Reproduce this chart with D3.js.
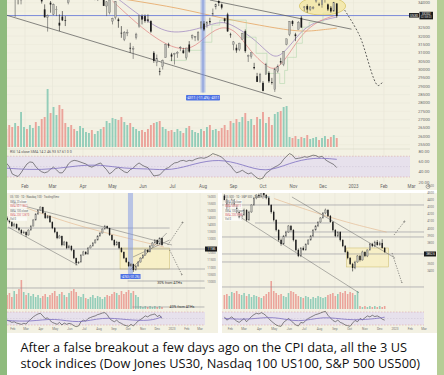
<!DOCTYPE html>
<html><head><meta charset="utf-8">
<script src="https://cdn.jsdelivr.net/npm/d3@7"></script>
<style>html,body{margin:0;padding:0;background:#fff;}svg{display:block;}</style>
</head><body>
<svg id="c" width="444" height="375"></svg>
<script>
// ---------------- DATA ----------------
const captionLines = [
  "After a false breakout a few days ago on the CPI data, all the 3 US",
  "stock indices (Dow Jones US30, Nasdaq 100 US100, S&P 500 US500)"
];
const topMonthDates = ["2022-02-01","2022-03-01","2022-04-01","2022-05-01","2022-06-01","2022-07-01","2022-08-01","2022-09-01","2022-10-01","2022-11-01","2022-12-01","2023-01-01","2023-02-01","2023-03-01"];
const topMonthLabels = ["Feb","Mar","Apr","May","Jun","Jul","Aug","Sep","Oct","Nov","Dec","2023","Feb","Mar"];
const smallMonthDates = ["2022-02-01","2022-03-01","2022-04-01","2022-05-01","2022-06-01","2022-07-01","2022-08-01","2022-09-01","2022-10-01","2022-11-01","2022-12-01","2023-01-01","2023-02-01","2023-03-01"];
const smallMonthLabels = ["Feb","Mar","Apr","May","Jun","Jul","Aug","Sep","Oct","Nov","Dec","2023","Feb","Mar"];
const us30Ticks = [34000,33500,33000,32500,32000,31500,31000,30500,30000,29500,29000,28500,28000,27500,27000,26500,26000,25500];
const us100Ticks = [16000,15500,15000,14500,14000,13500,13000,12500,12000,11500,11000,10500,10000];
const us500Ticks = [4600,4500,4400,4300,4200,4100,4000,3900,3800,3700,3600,3500,3400];
const rsiTicks = [80,60,40,20];

// US30 candles [open, high, low, close], one every 3 days from 2022-01-13
const us30Start = "2022-01-13";
const us30 = [
[36290,36450,36050,36113],[35900,35950,35300,35368],[35370,35500,34700,34715],[34260,34400,33150,34364],
[34300,34500,33900,34168],[34160,34750,33900,34725],[34730,35200,34600,35131],[35400,35600,35000,35111],
[35100,35500,35000,35463],[35460,35825,35400,35768],[35250,35300,34700,34738],[34600,35000,34500,34988],
[34300,34400,33950,34079],[33600,33900,33100,33131],[33130,33300,32272,33223],[34000,34100,33400,33892],
[33300,33950,33250,33891],[33600,33800,33200,33614],[32800,33300,32300,32632],[33170,33500,32900,32944],
[32950,33200,32600,32945],[34000,34500,33900,34480],[34750,34900,34500,34552],[34800,34900,34300,34358],
[34700,34900,34500,34861],[34950,35370,34900,35294],[34700,34900,34500,34818],[34800,35000,34600,34921],
[34500,34700,34300,34583],[34500,34600,34300,34308],[34200,34600,34150,34564],[34400,34500,34100,34411],
[34400,34950,34350,34911],[34800,34900,33800,33811],[33800,34100,33200,34049],[33400,34200,33300,34160],
[32900,33100,32700,33061],[33100,34100,33000,34061],[33000,33100,32500,32899],[32200,32600,31900,32160],
[31800,32300,31700,32197],[32200,32400,32000,32223],[31300,31600,31000,31253],[31250,31400,30636,31262],
[31900,32200,31800,32120],[32600,33200,32500,33213],[33200,33300,32700,32990],[33200,33300,32800,32900],
[33000,33300,32800,32916],[32900,32950,32200,32272],[31000,31100,30400,30516],[30400,30900,30200,30668],
[29900,30100,29653,29888],[30200,30600,30000,30530],[30700,31550,30700,31500],[31500,31600,31300,31438],
[30900,31000,30500,30775],[30900,31000,30300,30967],[30950,31100,30700,31037],[31300,31400,31100,31338],
[31150,31300,30950,30981],[30700,31300,30600,31288],[31500,31700,31000,31072],[31900,32100,31800,32036],
[31900,32000,31700,31990],[31800,32300,31700,32197],[32500,32900,32400,32845],[32750,32900,32300,32396],
[32700,32900,32500,32803],[32900,33100,32700,32832],[33300,33650,33200,33336],[33750,33950,33600,33912],
[34100,34150,33800,33980],[33900,33950,33600,33706],[33050,33100,32800,32910],[33300,33400,32250,32283],
[32100,32200,31900,32098],[31500,31700,31150,31656],[31300,31500,31000,31145],[31200,31600,31100,31581],
[31800,32200,31800,32151],[32300,32400,31000,31104],[30800,30900,30450,30822],[30800,31000,30650,31019],
[30150,30400,30000,30076],[29600,29800,29250,29261],[29300,29800,29200,29684],[29200,29300,28700,28725],
[29700,30400,29700,30316],[29800,29900,29200,29296],[29250,29500,29100,29203],[28800,30100,28660,30038],
[29900,30300,29800,30186],[30500,30700,30300,30424],[30300,31100,30200,31082],[31500,31850,31450,31836],
[32100,32900,32000,32861],[32900,32950,32600,32732],[32100,32200,31700,32001],[32400,32900,32400,32827],
[33100,33200,32500,32513],[33700,33800,33500,33747],[33800,33900,33400,33592],[33600,33800,33500,33746],
[33700,33800,33600,33700],[34100,34250,34000,34194],[33900,34000,33800,33849],[33900,34600,33700,34589],
[34300,34450,34000,34429],[33900,33950,33500,33596],[33700,33800,33400,33476],[33500,34050,33450,34005],
[33950,33980,33100,33202]
];
const us30Vol = [18,22,20,24,21,35,20,18,22,19,25,21,28,30,58,34,40,32,42,38,24,20,22,18,16,21,19,15,14,17,13,16,18,20,26,24,29,28,27,30,25,22,24,20,18,16,17,15,18,22,24,25,26,20,18,16,17,15,18,16,14,19,21,17,15,14,18,16,20,22,17,18,16,19,22,17,26,24,28,25,30,34,26,28,22,30,28,35,24,30,22,33,35,36,40,41,10,9,11,8,10,9,12,8,9,10,7,9,11,8,10,12,9];
const us30Rsi = [57,50,36,33,31,38,47,55,59,58,50,44,40,38,40,45,49,44,38,38,45,55,60,62,61,59,57,55,51,49,52,55,57,50,44,36,40,46,48,44,40,38,44,47,53,57,53,50,48,40,32,33,34,40,46,48,53,57,58,61,62,60,62,61,64,66,67,66,68,71,75,73,71,68,63,56,52,44,38,40,43,39,36,38,33,28,26,28,37,41,46,49,52,56,64,70,75,72,65,66,67,69,68,70,72,71,68,70,64,60,57,54,48];
const us30RsiMa = [[0,47],[8,44],[16,45],[24,52],[32,54],[40,46],[48,46],[56,42],[64,56],[72,65],[80,54],[88,38],[96,57],[104,68],[112,64]];
const us30Ma200 = [["2022-04-01",34600],["2022-05-18",34163],["2022-07-08",33680],["2022-08-19",33080],["2022-09-27",32657],["2022-11-07",32235],["2022-11-27",32355],["2022-12-15",32476]];
const us30Ma100 = [["2022-05-05",34300],["2022-06-05",32900],["2022-06-28",32055],["2022-07-31",32476],["2022-08-20",32958],["2022-09-04",32536],["2022-09-24",31753],["2022-10-08",30850],["2022-10-18",30669],["2022-11-04",31934],["2022-11-17",32777],["2022-12-15",33138]];
const us30Ma50 = [["2022-05-01",34100],["2022-06-01",32400],["2022-06-28",31331],["2022-07-18",31150],["2022-07-31",31753],["2022-08-18",32657],["2022-09-04",32355],["2022-09-17",31150],["2022-10-05",30127],["2022-10-15",29946],["2022-10-28",30970],["2022-11-10",32175],["2022-11-27",32958],["2022-12-15",33259]];
const us30Base = [["2022-06-28",30548],["2022-07-15",31150],["2022-07-31",31633],["2022-08-10",32657],["2022-08-18",32958],["2022-09-04",32958],["2022-09-14",31934],["2022-09-24",30970],["2022-10-05",29765],["2022-10-18",29162],["2022-10-23",29946],["2022-10-26",30729],["2022-11-04",31572],["2022-11-10",32536],["2022-11-17",32838],["2022-12-01",33380],["2022-12-15",33440]];
const us30Support = 33230;
const us30LowerTrend = [["2022-01-13",33259],["2022-10-20",28259]];
const us30UpperTrend = [["2022-08-08",34163],["2022-12-30",32416]];
const us30Measure = {date:"2022-08-01", low:28620};
const us30Ellipse = {from:"2022-11-07", to:"2022-12-24", hi:34343, lo:33259};
const us30Arrow = [["2022-12-23",33560],["2023-01-07",32054],["2023-01-26",29043],["2023-01-31",29283]];

// US100 candles, one every 5 days from 2022-01-20
const us100Start = "2022-01-20";
const us100 = [
[14500,14600,14250,14350],[14350,14420,14100,14200],[14200,14250,13850,13920],[13920,14150,13900,14060],
[14060,14100,13700,13780],[13780,13850,13550,13640],[13640,13700,13350,13430],[13430,13600,13380,13500],
[13500,13550,13150,13290],[13290,13700,13250,13640],[13640,14000,13600,13920],[13920,14400,13900,14350],
[14350,14820,14300,14770],[14770,15100,14700,15050],[15050,15300,15000,15260],[15260,15280,14780,14840],
[14840,14900,14420,14490],[14490,14700,14450,14630],[14630,14680,14150,14200],[14200,14250,13700,13780],
[13780,13850,13420,13500],[13500,13550,13000,13080],[13080,13300,13050,13220],[13220,13250,12500,12590],
[12590,12880,12550,12800],[12800,12850,12300,12380],[12380,12600,12350,12520],[12520,12560,12150,12240],
[12240,12280,11600,11670],[11670,11700,11150,11320],[11320,11450,11250,11390],[11390,11950,11350,11880],
[11880,12180,11850,12100],[12100,12150,11900,11950],[11950,12450,11920,12380],[12380,12600,12350,12520],
[12520,12800,12480,12730],[12730,13000,12700,12940],[12940,13280,12900,13220],[13220,13500,13180,13430],
[13430,13760,13400,13710],[13710,14000,13680,13920],[13920,13950,13700,13780],[13780,13800,13230,13290],
[13290,13320,12880,12940],[12940,12980,12500,12590],[12590,12880,12550,12800],[12800,12830,12300,12380],
[12380,12420,12050,12100],[12100,12130,11600,11670],[11670,11720,11330,11390],[11390,11430,11050,11110],
[11110,11300,11080,11250],[11250,11280,10700,10830],[10830,11180,10800,11110],[11110,11450,11080,11390],
[11390,11730,11350,11670],[11670,11950,11630,11880],[11880,12300,11850,12240],[12240,12280,12050,12100],
[12100,12580,12080,12520],[12520,12800,12480,12730],[12730,13000,12700,12940],[12940,12980,12620,12660],
[12660,13130,12640,13080],[13080,13100,12540,12590]
];
const us100Vol = [14,16,12,18,15,20,29,17,14,16,13,15,12,14,11,13,15,12,14,16,18,13,15,17,14,12,16,18,20,17,13,12,15,11,10,12,14,11,13,12,10,12,14,13,15,17,16,14,18,15,17,19,16,18,14,12,3,2,3,2,3,2,3,2,3,2];
const us100Rsi = [45,42,38,40,36,34,32,35,33,42,48,55,60,64,66,58,50,52,44,38,35,32,38,30,36,32,35,33,28,25,27,40,45,42,50,53,56,58,62,64,67,68,62,50,44,40,45,38,35,30,28,26,32,27,35,42,47,52,58,55,60,62,64,56,60,50];
const us100RsiMa = [[0,44],[10,40],[20,52],[30,34],[40,55],[50,46],[60,42],[65,55]];
const us100Ma = [["2022-03-01",15200],["2022-06-01",14100],["2022-09-01",13300],["2022-12-15",12450]];
const us100Levels = [[13783,"2022-01-20","2022-12-27"],[12306,"2022-01-01","2023-04-01"],[10900,"2022-01-20","2023-03-20"],[10056,"2022-09-30","2023-03-10"],[9564,"2022-01-01","2023-04-01"],[8228,"2022-10-10","2023-03-10"]];
const us100Channel = [[["2022-02-01",15541],["2023-01-01",12588]],[["2022-01-22",13853],["2022-06-17",11181]],[["2022-10-05",10830],["2022-12-21",13432]],[["2022-10-11",11744],["2022-12-27",12939]]];
const us100Box = {from:"2022-09-14", to:"2022-12-27", hi:12377, lo:10900};
const us100Measure = {date:"2022-10-06", low:10408};
const us100Arrows = [[["2022-12-23",12588],["2023-01-24",14205]],[["2022-12-27",12236],["2023-01-22",10478]]];
const us100Notes = [["30% from ATHs","2022-12-01",9860],["40% from ATHs","2022-12-27",8150]];

// US500 candles, one every 5 days from 2022-01-20
const us500Start = "2022-01-20";
const us500 = [
[4460,4480,4380,4400],[4400,4420,4260,4288],[4290,4370,4280,4344],[4340,4420,4330,4400],
[4400,4410,4300,4316],[4316,4330,4210,4232],[4232,4250,4130,4148],[4150,4220,4120,4190],
[4190,4280,4180,4260],[4260,4270,4100,4120],[4120,4250,4110,4232],[4232,4340,4220,4330],
[4330,4440,4320,4428],[4428,4480,4410,4470],[4470,4490,4430,4456],[4456,4520,4440,4498],
[4498,4510,4450,4470],[4470,4480,4410,4428],[4428,4440,4320,4330],[4330,4340,4210,4232],
[4232,4250,4100,4120],[4120,4130,3960,3980],[3980,3990,3820,3840],[3840,3860,3760,3784],
[3784,3910,3770,3896],[3896,3970,3880,3952],[3952,4050,3940,4036],[4036,4050,3960,3980],
[3980,3990,3820,3840],[3840,3850,3680,3700],[3700,3720,3600,3616],[3616,3740,3600,3728],
[3728,3750,3690,3700],[3700,3790,3690,3784],[3784,3850,3770,3840],[3840,3910,3830,3896],
[3896,3990,3880,3980],[3980,4050,3970,4036],[4036,4100,4020,4092],[4092,4160,4080,4148],
[4148,4230,4140,4218],[4218,4280,4200,4260],[4260,4270,4160,4176],[4176,4190,4080,4092],
[4092,4100,3960,3980],[3980,3990,3880,3896],[3896,3960,3880,3952],[3952,3960,3820,3840],
[3840,3850,3740,3756],[3756,3770,3660,3672],[3672,3690,3570,3588],[3588,3600,3490,3504],
[3504,3520,3400,3448],[3448,3550,3430,3532],[3532,3630,3520,3616],[3616,3630,3540,3560],
[3560,3690,3550,3672],[3672,3680,3600,3616],[3616,3710,3600,3700],[3700,3800,3690,3784],
[3784,3800,3740,3756],[3756,3830,3740,3812],[3812,3840,3760,3770],[3770,3820,3760,3798],
[3798,3850,3720,3728],[3728,3740,3660,3672]
];
const us500Vol = [14,15,13,17,16,18,15,14,16,13,15,12,14,13,12,11,13,15,17,28,18,16,14,15,13,12,16,18,17,15,13,12,11,13,12,10,12,11,13,12,11,12,14,15,16,13,15,17,16,18,15,17,16,14,18,3,2,3,2,3,2,3,2,3,2,3];
const us500Rsi = [55,45,50,55,48,42,38,44,50,40,48,56,62,66,64,68,64,58,50,42,36,30,27,26,38,44,50,44,36,30,27,38,36,44,50,54,58,62,64,67,70,72,60,52,44,40,45,38,35,30,28,26,36,44,40,50,46,52,58,55,60,56,58,54,48,45];
const us500RsiMa = [[0,50],[10,46],[20,58],[30,36],[40,58],[50,44],[60,48],[65,54]];
const us500Ma = [["2022-05-01",4420],["2022-08-01",4200],["2022-10-15",4050],["2022-12-15",3950]];
const us500Levels = [[4330,"2022-01-01","2023-04-01"],[4078,"2022-03-23","2022-08-22"],[3952,"2022-05-23","2023-04-01"],[3882,"2022-01-01","2023-04-01"],[3644,"2022-01-01","2023-04-01"],[3532,"2022-01-01","2022-08-22"],[3182,"2022-01-01","2023-04-01"]];
const us500Channel = [[["2022-06-06",4442],["2023-01-01",3588]],[["2022-02-24",4148],["2022-10-20",3100]]];
const us500Box = {from:"2022-09-25", to:"2022-12-19", hi:3728, lo:3462};
const us500Arrows = [[["2022-12-30",3910],["2023-01-21",4106]],[["2022-12-26",3658],["2023-01-15",3238]]];

// ---------------- DRAW ----------------
const P = d3.timeParse("%Y-%m-%d");
const svg = d3.select("#c");
const FONT = "Roboto, 'Liberation Sans', sans-serif";
svg.append("rect").attr("width",444).attr("height",375).attr("fill","#ffffff");
svg.append("rect").attr("x",0).attr("y",0).attr("width",7).attr("height",375).attr("fill","#8fbb7e");
svg.append("rect").attr("x",437).attr("y",0).attr("width",7).attr("height",375).attr("fill","#b5cd96");

const defs = svg.append("defs");
function clip(id,x,y,w,h){defs.append("clipPath").attr("id",id).append("rect").attr("x",x).attr("y",y).attr("width",w).attr("height",h);}
defs.append("marker").attr("id","ah").attr("viewBox","0 0 6 6").attr("refX",5).attr("refY",3)
  .attr("markerWidth",4).attr("markerHeight",4).attr("orient","auto")
  .append("path").attr("d","M0,0L6,3L0,6").attr("fill","none").attr("stroke","#333").attr("stroke-width",1);

function candleDates(start, n, step){ const s=P(start); return d3.range(n).map(i=>d3.timeDay.offset(s,i*step)); }

function drawCandles(g, data, dates, x, y, w){
  const up = d=>d[3]>=d[0];
  g.selectAll(null).data(data).join("line")
    .attr("x1",(d,i)=>x(dates[i])).attr("x2",(d,i)=>x(dates[i]))
    .attr("y1",d=>y(d[1])).attr("y2",d=>y(d[2]))
    .attr("stroke",d=>up(d)?"#555":"#1c1c1c").attr("stroke-width",0.6);
  g.selectAll(null).data(data).join("rect")
    .attr("x",(d,i)=>x(dates[i])-w/2).attr("width",w)
    .attr("y",d=>y(Math.max(d[0],d[3])))
    .attr("height",d=>Math.max(0.7,Math.abs(y(d[0])-y(d[3]))))
    .attr("fill",d=>up(d)?"#b9b9b2":"#1c1c1c")
    .attr("stroke",d=>up(d)?"#555":"none").attr("stroke-width",0.3);
}
function drawVolume(g, vols, data, dates, x, v, w){
  g.selectAll(null).data(vols).join("rect")
    .attr("x",(d,i)=>x(dates[i])-w/2).attr("width",w)
    .attr("y",d=>v(d)).attr("height",d=>v(0)-v(d))
    .attr("fill",(d,i)=>data[i][3]>=data[i][0]?"#93cdb9":"#eba39a");
}
function drawRsi(g, rsi, ma, dates, x, r, x0, x1){
  g.append("rect").attr("x",x0).attr("width",x1-x0).attr("y",r(70)).attr("height",r(30)-r(70)).attr("fill","#e7e1ec");
  [70,50,30].forEach(v=>g.append("line").attr("x1",x0).attr("x2",x1).attr("y1",r(v)).attr("y2",r(v))
    .attr("stroke",v===50?"#c9c3d3":"#d49a9a").attr("stroke-width",0.5).attr("stroke-dasharray","1.5,1.5"));
  g.append("path").datum(rsi).attr("fill","none").attr("stroke","#3a3a3a").attr("stroke-width",0.6)
    .attr("d",d3.line().x((d,i)=>x(dates[i])).y(d=>r(d)));
  g.append("path").datum(ma).attr("fill","none").attr("stroke","#7c6fc0").attr("stroke-width",0.8)
    .attr("d",d3.line().curve(d3.curveBasis).x(d=>x(dates[d[0]])).y(d=>r(d[1])));
}
function drawLine(g, pts, x, y, col, w, dash, curve){
  g.append("path").datum(pts).attr("fill","none").attr("stroke",col).attr("stroke-width",w)
    .attr("stroke-dasharray",dash||null)
    .attr("d",d3.line().curve(curve||d3.curveLinear).x(d=>x(P(d[0]))).y(d=>y(d[1])));
}

// ===== TOP CHART (US30) =====
const gT = svg.append("g");
gT.append("rect").attr("x",7).attr("y",0).attr("width",430).attr("height",190).attr("fill","#f3f1e3");
clip("cT",7,0,403,190);
const xT = d3.scaleTime().domain([P("2022-01-01"),P("2023-03-01")]).range([-5.5,411.5]);
const yT = d3.scaleLinear().domain([25500,34000]).range([144.7,2.7]);
const vT = d3.scaleLinear().domain([0,60]).range([147,87]);
const rT = d3.scaleLinear().domain([0,100]).range([192.6,140.6]);
const dT = candleDates(us30Start, us30.length, 3);
const pT = gT.append("g").attr("clip-path","url(#cT)");
pT.selectAll(null).data(topMonthDates).join("line").attr("x1",d=>xT(P(d))).attr("x2",d=>xT(P(d)))
  .attr("y1",0).attr("y2",182).attr("stroke","#e7e5d6").attr("stroke-width",0.6);
pT.selectAll(null).data(us30Ticks).join("line").attr("x1",7).attr("x2",410).attr("y1",d=>yT(d)).attr("y2",d=>yT(d))
  .attr("stroke","#e9e7d9").attr("stroke-width",0.5);
drawVolume(pT, us30Vol, us30, dT, xT, vT, 1.9);
drawRsi(pT, us30Rsi, us30RsiMa, dT, xT, rT, 7, 410);
pT.append("line").attr("x1",7).attr("x2",437).attr("y1",149).attr("y2",149).attr("stroke","#d8d6c8").attr("stroke-width",0.6);
drawLine(pT, us30Ma200, xT, yT, "#e6a561", 0.8, null, d3.curveBasis);
drawLine(pT, us30Ma100, xT, yT, "#9a7fbf", 0.7, null, d3.curveBasis);
drawLine(pT, us30Ma50, xT, yT, "#df8080", 0.7, null, d3.curveBasis);
drawLine(pT, us30Base, xT, yT, "#a9d3a4", 0.5, null, d3.curveStepAfter);
const e = us30Ellipse;
pT.append("ellipse").attr("cx",(xT(P(e.from))+xT(P(e.to)))/2).attr("cy",(yT(e.hi)+yT(e.lo))/2)
  .attr("rx",(xT(P(e.to))-xT(P(e.from)))/2).attr("ry",(yT(e.lo)-yT(e.hi))/2)
  .attr("fill","#f3e69a").attr("fill-opacity",0.7).attr("stroke","#cfb94a").attr("stroke-width",0.6);
pT.append("line").attr("x1",7).attr("x2",410).attr("y1",yT(us30Support)).attr("y2",yT(us30Support))
  .attr("stroke","#6d7fd8").attr("stroke-width",0.9);
drawLine(pT, us30LowerTrend, xT, yT, "#555", 0.7);
drawLine(pT, us30UpperTrend, xT, yT, "#555", 0.7);
const mx = xT(P(us30Measure.date));
pT.append("rect").attr("x",mx-2.5).attr("width",5).attr("y",0).attr("height",yT(us30Measure.low))
  .attr("fill","#7d96e6").attr("fill-opacity",0.45);
pT.append("line").attr("x1",mx).attr("x2",mx).attr("y1",0).attr("y2",yT(us30Measure.low)).attr("stroke","#5b78dc").attr("stroke-width",0.6);
drawCandles(pT, us30, dT, xT, yT, 1.7);
pT.append("path").datum(us30Arrow).attr("fill","none").attr("stroke","#333").attr("stroke-width",0.8)
  .attr("stroke-dasharray","1.8,1.8")
  .attr("d",d3.line().curve(d3.curveCatmullRom).x(d=>xT(P(d[0]))).y(d=>yT(d[1])));
gT.append("rect").attr("x",mx-17).attr("y",yT(us30Measure.low)+2.5).attr("width",34).attr("height",5.5).attr("fill","#4f72e3").attr("rx",0.8);
gT.append("text").attr("x",mx).attr("y",yT(us30Measure.low)+6.7).attr("text-anchor","middle").attr("font-size",3.6)
  .attr("font-family",FONT).attr("fill","#fff").text("-4311 (-11.4%) -4311");
// axis labels (those hidden under the price tag are skipped, as in the reference)
const tagY = yT(us30Support);
gT.selectAll(null).data(us30Ticks.filter(d=>Math.abs(yT(d)-tagY)>5.5)).join("text").attr("x",424).attr("y",d=>yT(d)+1.5).attr("text-anchor","middle")
  .attr("font-size",4.3).attr("font-family",FONT).attr("fill","#6a6a6a").text(d=>d);
gT.selectAll(null).data(rsiTicks).join("text").attr("x",424).attr("y",d=>rT(d)+1.5).attr("text-anchor","middle")
  .attr("font-size",4.3).attr("font-family",FONT).attr("fill","#6a6a6a").text(d=>d3.format(".2f")(d));
gT.selectAll(null).data(topMonthDates).join("text").attr("x",d=>xT(P(d))).attr("y",188).attr("text-anchor","middle")
  .attr("font-size",4.5).attr("font-family",FONT).attr("fill","#666").text((d,i)=>topMonthLabels[i]);
gT.append("circle").attr("cx",428).attr("cy",186.5).attr("r",2).attr("fill","none").attr("stroke","#777").attr("stroke-width",0.6);
gT.append("rect").attr("x",409).attr("y",tagY-2.5).attr("width",10).attr("height",4.5).attr("fill","#1b1b1b");
gT.append("text").attr("x",414).attr("y",tagY+1).attr("text-anchor","middle").attr("font-size",3.4).attr("font-family",FONT).attr("fill","#fff").text("US30");
gT.append("rect").attr("x",419.5).attr("y",tagY-3.8).attr("width",13.5).attr("height",7.6).attr("fill","#1b1b1b");
gT.append("text").attr("x",426.2).attr("y",tagY-0.6).attr("text-anchor","middle").attr("font-size",3.2).attr("font-family",FONT).attr("fill","#fff").text("33202");
gT.append("text").attr("x",426.2).attr("y",tagY+2.8).attr("text-anchor","middle").attr("font-size",2.8).attr("font-family",FONT).attr("fill","#ddd").text("02:58:03");
gT.append("text").attr("x",10).attr("y",152.5).attr("font-size",3.6).attr("font-family",FONT).attr("fill","#555")
  .text("RSI 14 close SMA 14 2    46.93  57.61  0  0");

// ===== BOTTOM PANELS =====
function smallPanel(cfg){
  const g = svg.append("g");
  g.append("rect").attr("x",cfg.x0).attr("y",193).attr("width",cfg.x1-cfg.x0).attr("height",140).attr("fill","#f3f1e3");
  clip(cfg.id,cfg.x0,193,cfg.pr-cfg.x0,135);
  const x = cfg.x, y = cfg.y;
  const v = d3.scaleLinear().domain([0,30]).range([309,279]);
  const r = d3.scaleLinear().domain([0,100]).range([334.75,302.25]);
  const dates = candleDates(cfg.start, cfg.data.length, 5);
  const p = g.append("g").attr("clip-path",`url(#${cfg.id})`);
  p.selectAll(null).data(smallMonthDates).join("line").attr("x1",d=>x(P(d))).attr("x2",d=>x(P(d)))
    .attr("y1",193).attr("y2",326).attr("stroke","#e7e5d6").attr("stroke-width",0.5);
  drawVolume(p, cfg.vol, cfg.data, dates, x, v, 1.6);
  drawRsi(p, cfg.rsi, cfg.rsiMa, dates, x, r, cfg.x0, cfg.pr);
  const b = cfg.box;
  p.append("rect").attr("x",x(P(b.from))).attr("width",x(P(b.to))-x(P(b.from))).attr("y",y(b.hi)).attr("height",y(b.lo)-y(b.hi))
    .attr("fill","#f7efbf").attr("fill-opacity",0.8).attr("stroke","#c9b96a").attr("stroke-width",0.5);
  cfg.levels.forEach(l=>p.append("line").attr("x1",x(P(l[1]))).attr("x2",x(P(l[2]))).attr("y1",y(l[0])).attr("y2",y(l[0]))
    .attr("stroke","#8d8d95").attr("stroke-width",0.6));
  drawLine(p, cfg.ma, x, y, "#e3b48a", 0.6, null, d3.curveBasis);
  cfg.channel.forEach(c=>drawLine(p, c, x, y, "#666", 0.5));
  if(cfg.measure){
    const m = x(P(cfg.measure.date));
    p.append("rect").attr("x",m-2.5).attr("width",5).attr("y",193).attr("height",y(cfg.measure.low)-193).attr("fill","#7d96e6").attr("fill-opacity",0.5);
  }
  drawCandles(p, cfg.data, dates, x, y, 1.4);
  cfg.arrows.forEach(a=>p.append("path").datum(a).attr("fill","none").attr("stroke","#333").attr("stroke-width",0.5)
    .attr("stroke-dasharray","1.3,1.3").attr("marker-end","url(#ah)")
    .attr("d",d3.line().x(d=>x(P(d[0]))).y(d=>y(d[1]))));
  if(cfg.measure){
    const m = x(P(cfg.measure.date));
    g.append("rect").attr("x",m-10).attr("y",y(cfg.measure.low)-2).attr("width",20).attr("height",5).attr("fill","#4f72e3");
    g.append("text").attr("x",m).attr("y",y(cfg.measure.low)+1.8).attr("text-anchor","middle").attr("font-size",2.8)
      .attr("font-family",FONT).attr("fill","#fff").text("-4763 (-31.2%)");
  }
  (cfg.notes||[]).forEach(n=>g.append("text").attr("x",x(P(n[1]))).attr("y",y(n[2])).attr("font-size",3.6)
    .attr("font-family",FONT).attr("fill","#333").text(n[0]));
  const tY = y(cfg.tag);
  g.selectAll(null).data(cfg.ticks.filter(d=>Math.abs(y(d)-tY)>4)).join("text").attr("x",(cfg.pr+cfg.x1)/2).attr("y",d=>y(d)+1).attr("text-anchor","middle")
    .attr("font-size",3).attr("font-family",FONT).attr("fill","#777").text(d=>d);
  g.selectAll(null).data(smallMonthDates).join("text").attr("x",d=>x(P(d))).attr("y",330).attr("text-anchor","middle")
    .attr("font-size",3.2).attr("font-family",FONT).attr("fill","#777").text((d,i)=>smallMonthLabels[i]);
  g.append("rect").attr("x",cfg.pr).attr("y",tY-2.5).attr("width",cfg.x1-cfg.pr-1).attr("height",5).attr("fill","#1b1b1b");
  g.append("text").attr("x",(cfg.pr+cfg.x1)/2).attr("y",tY+1).attr("text-anchor","middle").attr("font-size",2.8)
    .attr("font-family",FONT).attr("fill","#fff").text(cfg.tagText);
  g.append("text").attr("x",cfg.x0+3).attr("y",198).attr("font-size",2.8).attr("font-family",FONT).attr("fill","#666").text(cfg.title);
  cfg.legend.forEach((t,i)=>{
    g.append("rect").attr("x",cfg.x0+2).attr("y",200+i*4.3).attr("width",18).attr("height",3.6).attr("fill","#fff").attr("fill-opacity",0.7);
    g.append("text").attr("x",cfg.x0+3).attr("y",202.9+i*4.3).attr("font-size",2.7).attr("font-family",FONT).attr("fill",i%2?"#d06060":"#666").text(t);
  });
}
smallPanel({id:"cL", x0:7, x1:218, pr:205, start:us100Start, data:us100, vol:us100Vol, rsi:us100Rsi, rsiMa:us100RsiMa,
  x:d3.scaleTime().domain([P("2022-01-01"),P("2023-04-01")]).range([-2,214.9]),
  y:d3.scaleLinear().domain([10000,16000]).range([281.8,196.5]),
  box:us100Box, levels:us100Levels, ma:us100Ma, channel:us100Channel, measure:us100Measure, arrows:us100Arrows,
  notes:us100Notes, ticks:us100Ticks, tag:12306, tagText:"11185",
  title:"US 100 · 1D · Nasdaq 100 · TradingView", legend:["SMA 20 close","SMA 50 11862","SMA 100 close","SMA 200 12870","Vol 0"]});
smallPanel({id:"cR", x0:222, x1:437, pr:424, start:us500Start, data:us500, vol:us500Vol, rsi:us500Rsi, rsiMa:us500RsiMa,
  x:d3.scaleTime().domain([P("2022-01-01"),P("2023-04-01")]).range([215,439.4]),
  y:d3.scaleLinear().domain([3400,4600]).range([271.4,185.7]),
  box:us500Box, levels:us500Levels, ma:us500Ma, channel:us500Channel, measure:null, arrows:us500Arrows,
  notes:[], ticks:us500Ticks, tag:3644, tagText:"3852.6",
  title:"US 500 · 1D · S&P 500 · TradingView", legend:["SMA 20 close","SMA 50 3911","SMA 100 close","SMA 200 3986","Vol 0"]});

// ===== CAPTION =====
const cap = svg.append("g").attr("font-family","'Open Sans','Noto Sans',sans-serif").attr("fill","#111");
const t1 = cap.append("text").attr("x",20.5).attr("y",352).attr("font-size",13).text(captionLines[0]);
const fs = 13*387/t1.node().getComputedTextLength();
t1.attr("font-size",fs);
cap.append("text").attr("x",20.5).attr("y",367.5).attr("font-size",fs).text(captionLines[1]);
</script></body></html>
